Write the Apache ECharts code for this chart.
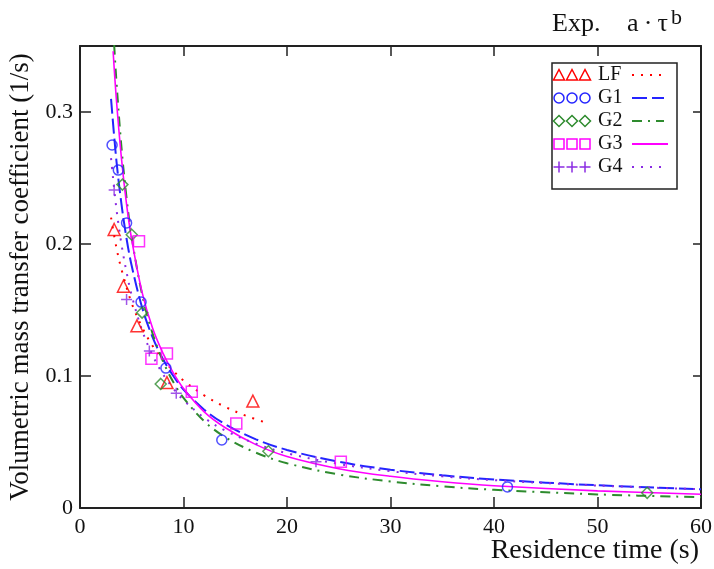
<!DOCTYPE html>
<html><head><meta charset="utf-8">
<script src="https://cdn.jsdelivr.net/npm/echarts@6/dist/echarts.min.js"></script>
<style>html,body{margin:0;padding:0;background:#fff}#c{width:714px;height:569px}</style>
</head><body><div id="c"></div>
<script>
// ---- axis ----
const xMin = 0, xMax = 60, xStep = 10;
const yMin = 0, yMax = 0.35, yStep = 0.1;
const xTitle = 'Residence time (s)';
const yTitle = 'Volumetric mass transfer coefficient (1/s)';
const seriesNames = ['LF', 'G1', 'G2', 'G3', 'G4'];

// ---- experimental points ----
const lfX = [3.3, 4.2, 5.5, 8.4, 16.7];
const lfY = [0.211, 0.168, 0.138, 0.095, 0.081];
const g1X = [3.1, 3.7, 4.5, 5.9, 8.3, 13.7, 41.3];
const g1Y = [0.275, 0.256, 0.216, 0.156, 0.106, 0.0515, 0.016];
const g2X = [4.1, 5.0, 6.0, 7.8, 18.2, 54.8];
const g2Y = [0.245, 0.207, 0.148, 0.094, 0.043, 0.0115];
const g3X = [5.7, 6.9, 8.4, 10.8, 15.1, 25.2];
const g3Y = [0.202, 0.113, 0.117, 0.088, 0.064, 0.035];
const g4X = [3.3, 4.5, 6.7, 9.3, 22.8];
const g4Y = [0.241, 0.158, 0.119, 0.087, 0.035];

// ---- fitted a*tau^b curves ----
const lfFitX = [3, 3.5, 4, 5, 6, 7, 8, 9, 10, 12, 14, 16, 18];
const lfFitY = [0.220, 0.198, 0.181, 0.155, 0.137, 0.123, 0.1125, 0.1040, 0.0966, 0.0853, 0.0767, 0.0700, 0.0646];
const g1FitX = [3, 3.5, 4, 4.5, 5, 6, 7, 8, 9, 10, 12, 14, 17, 20, 25, 30, 35, 40, 50, 60];
const g1FitY = [0.310, 0.2645, 0.2306, 0.2040, 0.1833, 0.1519, 0.1296, 0.1130, 0.1002, 0.0898, 0.0745, 0.0636, 0.0520, 0.0440, 0.0350, 0.0290, 0.0248, 0.0216, 0.0172, 0.0142];
const g2FitX = [3.3, 3.5, 4, 4.5, 5, 6, 7, 8, 9, 10, 12, 14, 17, 20, 25, 30, 35, 40, 50, 60];
const g2FitY = [0.351, 0.3255, 0.2738, 0.2348, 0.2050, 0.1618, 0.1325, 0.1114, 0.0956, 0.0834, 0.0658, 0.0538, 0.0419, 0.0339, 0.0254, 0.0201, 0.0164, 0.0138, 0.0103, 0.0082];
const g3FitX = [3.2, 3.5, 4, 4.5, 5, 6, 7, 8, 9, 10, 12, 14, 17, 20, 25, 30, 35, 40, 50, 60];
const g3FitY = [0.346, 0.311, 0.2652, 0.2300, 0.2031, 0.1634, 0.1365, 0.1175, 0.1025, 0.0905, 0.0728, 0.0610, 0.0480, 0.0390, 0.0298, 0.0240, 0.0199, 0.0169, 0.0130, 0.0104];
const g4FitX = [3, 3.5, 4, 4.5, 5, 6, 7, 8, 9, 10, 12, 14, 17, 20, 25, 30, 35, 40, 50, 60];
const g4FitY = [0.265, 0.2279, 0.2001, 0.1786, 0.1609, 0.1346, 0.1158, 0.1016, 0.0906, 0.0817, 0.0684, 0.0588, 0.0487, 0.0415, 0.0334, 0.0279, 0.0240, 0.0211, 0.0170, 0.0142];

// ---- styles ----
const colors = ['#ff0000', '#2424ff', '#2e8b2e', '#ff00ff', '#8a2be2'];
const symbols = ['triangle', 'circle', 'diamond', 'rect', 'path://M5,0V10M0,5H10'];
const symSizes = [12, 10, 11, 11, 11];
const dashes = [[2, 7], [15, 5], [10, 6, 2, 6], 'solid', [2, 7]];
const FONT = '"Liberation Serif", "Times New Roman", serif';

const ptsX = [lfX, g1X, g2X, g3X, g4X], ptsY = [lfY, g1Y, g2Y, g3Y, g4Y];
const fitX = [lfFitX, g1FitX, g2FitX, g3FitX, g4FitX], fitY = [lfFitY, g1FitY, g2FitY, g3FitY, g4FitY];
const zip = (a, b) => a.map((v, i) => [v, b[i]]);

const series = [];
seriesNames.forEach((n, i) => {
  series.push({
    name: n + ' fit', type: 'line', data: zip(fitX[i], fitY[i]), smooth: 0.35,
    showSymbol: false, clip: true, silent: true,
    lineStyle: { color: colors[i], width: i === 3 ? 1.6 : 2, type: dashes[i] }
  });
});
seriesNames.forEach((n, i) => {
  series.push({
    name: n, type: 'scatter', data: zip(ptsX[i], ptsY[i]), symbol: symbols[i], symbolSize: symSizes[i],
    itemStyle: { color: 'rgba(0,0,0,0)', borderColor: colors[i], borderWidth: 1.5 }, z: 5
  });
});

// ---- legend built with graphic ----
const lg = { x: 552, y: 63, w: 125, h: 126, rowY0: 75, rowDy: 23, symX: [559, 572, 585], textX: 598, lineX1: 632, lineX2: 664 };
const graphics = [];
graphics.push({ type: 'rect', shape: { x: lg.x, y: lg.y, width: lg.w, height: lg.h }, style: { fill: '#fff', stroke: '#222', lineWidth: 1.5 }, z: 10 });
function legendSymbol(i, cx, cy) {
  const st = { fill: 'none', stroke: colors[i], lineWidth: 1.5 };
  if (i === 0) return { type: 'polygon', shape: { points: [[cx, cy - 5.5], [cx + 5.5, cy + 5], [cx - 5.5, cy + 5]] }, style: st, z: 11 };
  if (i === 1) return { type: 'circle', shape: { cx: cx, cy: cy, r: 5 }, style: st, z: 11 };
  if (i === 2) return { type: 'polygon', shape: { points: [[cx, cy - 5.5], [cx + 5.5, cy], [cx, cy + 5.5], [cx - 5.5, cy]] }, style: st, z: 11 };
  if (i === 3) return { type: 'rect', shape: { x: cx - 5, y: cy - 5, width: 10, height: 10 }, style: st, z: 11 };
  return { type: 'group', z: 11, children: [
    { type: 'line', shape: { x1: cx - 5.5, y1: cy, x2: cx + 5.5, y2: cy }, style: st, z: 11 },
    { type: 'line', shape: { x1: cx, y1: cy - 5.5, x2: cx, y2: cy + 5.5 }, style: st, z: 11 }] };
}
seriesNames.forEach((n, i) => {
  const cy = lg.rowY0 + i * lg.rowDy;
  lg.symX.forEach(sx => graphics.push(legendSymbol(i, sx, cy)));
  graphics.push({ type: 'text', x: lg.textX, y: cy, z: 11, style: { text: n, font: '20px ' + FONT, fill: '#111', textVerticalAlign: 'middle', verticalAlign: 'middle' } });
  graphics.push({ type: 'line', z: 11, shape: { x1: lg.lineX1, y1: cy, x2: lg.lineX2 + (i === 3 ? 4 : 0), y2: cy },
    style: { stroke: colors[i], lineWidth: 2, lineDash: dashes[i] === 'solid' ? null : dashes[i] } });
});
// header text
graphics.push({ type: 'text', x: 552, y: 24, style: { text: 'Exp.', font: '26px ' + FONT, fill: '#111', verticalAlign: 'middle', textVerticalAlign: 'middle' } });
graphics.push({ type: 'text', x: 627, y: 24, style: { text: 'a\u2009·\u2009τ', font: '26px ' + FONT, fill: '#111', verticalAlign: 'middle', textVerticalAlign: 'middle' } });
graphics.push({ type: 'text', x: 671, y: 18, style: { text: 'b', font: '22px ' + FONT, fill: '#111', verticalAlign: 'middle', textVerticalAlign: 'middle' } });
// x-axis title
graphics.push({ type: 'text', x: 699, y: 551, style: { text: xTitle, font: '28px ' + FONT, fill: '#111', align: 'right', textAlign: 'right', verticalAlign: 'middle', textVerticalAlign: 'middle' } });

const axisLineStyle = { color: '#222', width: 2 };
const tickStyle = { color: '#222', width: 1.5 };
const labelStyle = { fontFamily: FONT, fontSize: 22, color: '#111' };

const option = {
  animation: false,
  backgroundColor: '#fff',
  grid: { left: 80, right: 13, top: 46, bottom: 61, containLabel: false, outerBoundsMode: 'none' },
  xAxis: [
    { type: 'value', min: xMin, max: xMax, interval: xStep, position: 'bottom',
      axisLine: { show: true, onZero: false, lineStyle: axisLineStyle },
      axisTick: { show: true, inside: true, length: 11, lineStyle: tickStyle },
      splitLine: { show: false },
      axisLabel: Object.assign({ margin: 8 }, labelStyle) },
    { type: 'value', min: xMin, max: xMax, interval: xStep, position: 'top',
      axisLine: { show: true, onZero: false, lineStyle: axisLineStyle },
      axisTick: { show: true, inside: true, length: 10, lineStyle: tickStyle },
      splitLine: { show: false }, axisLabel: { show: false } }
  ],
  yAxis: [
    { type: 'value', min: yMin, max: yMax, interval: yStep, position: 'left',
      axisLine: { show: true, onZero: false, lineStyle: axisLineStyle },
      axisTick: { show: true, inside: true, length: 11, lineStyle: tickStyle },
      splitLine: { show: false },
      axisLabel: Object.assign({ margin: 7, showMaxLabel: false }, labelStyle),
      name: yTitle, nameLocation: 'middle', nameGap: 46, nameRotate: 90,
      nameTextStyle: { fontFamily: FONT, fontSize: 27, color: '#111' } },
    { type: 'value', min: yMin, max: yMax, interval: yStep, position: 'right',
      axisLine: { show: true, onZero: false, lineStyle: axisLineStyle },
      axisTick: { show: true, inside: true, length: 8, lineStyle: tickStyle },
      splitLine: { show: false }, axisLabel: { show: false } }
  ],
  series: series,
  graphic: graphics
};
const chart = echarts.init(document.getElementById('c'), null, { renderer: 'canvas' });
chart.setOption(option);
</script></body></html>
